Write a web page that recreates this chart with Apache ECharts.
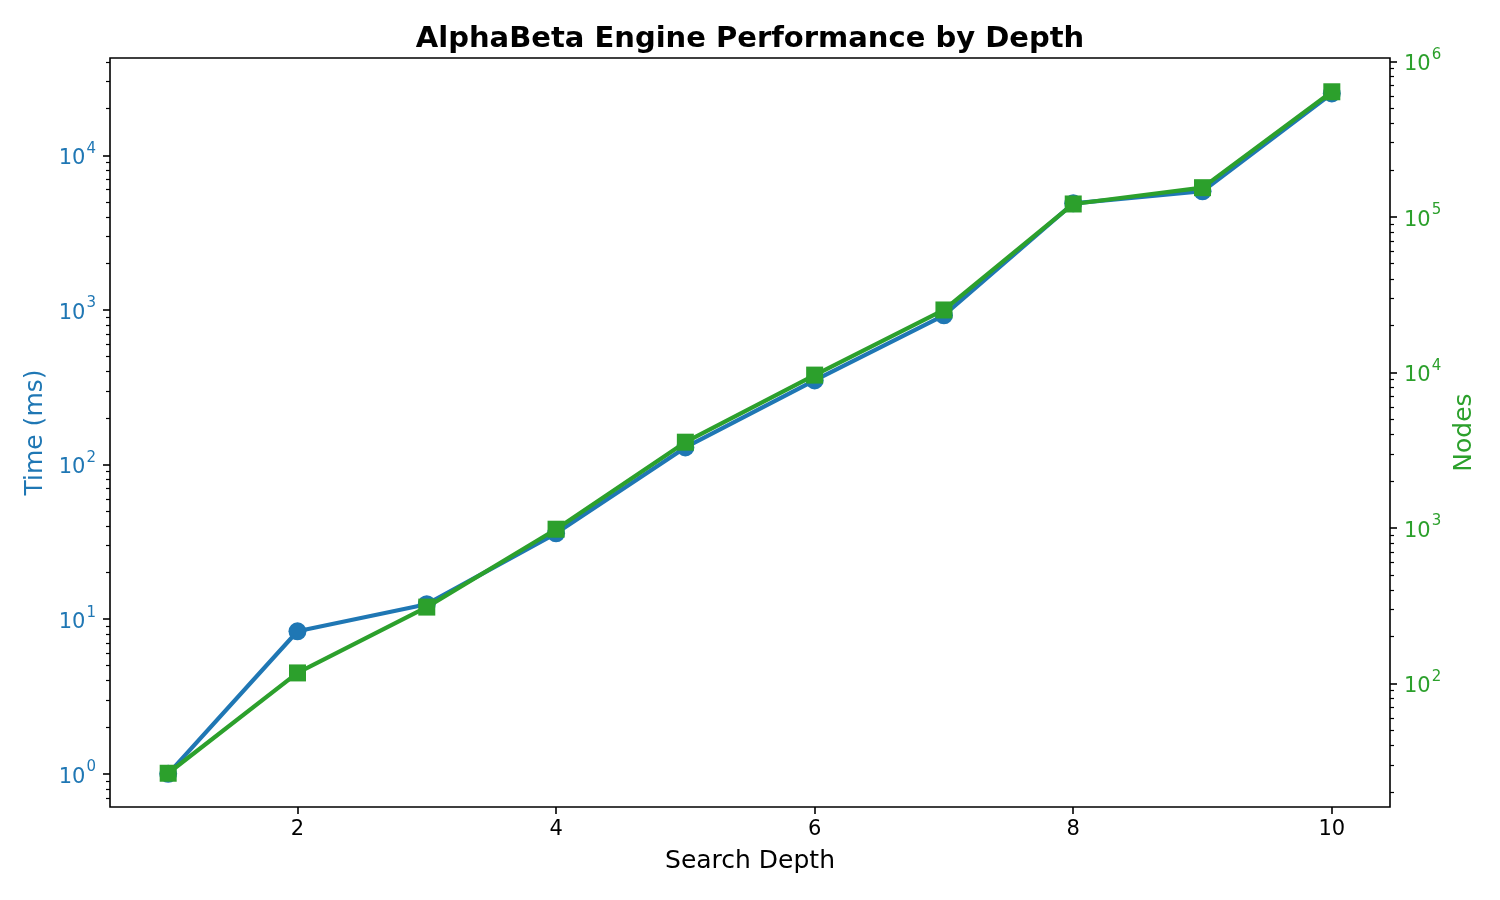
<!DOCTYPE html>
<html>
<head>
<meta charset="utf-8">
<script src="https://cdn.jsdelivr.net/npm/echarts@6/dist/echarts.min.js"></script>
<style>
html,body{margin:0;padding:0;background:#fff;}
#chart{width:1500px;height:900px;}
</style>
</head>
<body>
<div id="chart"></div>
<script>
// ---- data ----
const depths = [1, 2, 3, 4, 5, 6, 7, 8, 9, 10];
const timeMs = [1.0, 8.35, 12.5, 35.9, 129, 350, 923, 4890, 5850, 25100];
const nodes  = [26.5, 117, 310, 982, 3560, 9610, 25200, 121000, 154000, 637000];
const xTicks = [2, 4, 6, 8, 10];
const timeTicks = [1, 10, 100, 1000, 10000];
const nodeTicks = [100, 1000, 10000, 100000, 1000000];

const BLUE = '#1f77b4', GREEN = '#2ca02c';
const FONT = 'DejaVu Sans';
const timeMin = 0.61, timeMax = 42560;
const nodeMin = 16.08, nodeMax = 1.05e6;

function minorTicks(lo, hi) {
  const out = [];
  for (let e = -2; e <= 7; e++) {
    for (let m = 2; m <= 9; m++) {
      const v = m * Math.pow(10, e);
      if (v >= lo && v <= hi) out.push(v);
    }
  }
  return out;
}
function logLabel(v) {
  const e = Math.round(Math.log10(v));
  return '{b|10}{s|' + e + '}';
}

const chart = echarts.init(document.getElementById('chart'), null, {renderer: 'canvas'});

function majorLogAxis(pos, lo, hi, ticks, color) {
  return {
    type: 'log', position: pos, min: lo, max: hi, logBase: 10,
    axisLine: {show: false},
    splitLine: {show: false},
    minorTick: {show: false},
    axisTick: {show: true, inside: false, length: 7, lineStyle: {color: '#000', width: 1.6}, customValues: ticks},
    axisLabel: {
      show: true, customValues: ticks, margin: 14, color: color, fontFamily: FONT, fontSize: 21,
      formatter: logLabel,
      rich: {
        b: {color: color, fontFamily: FONT, fontSize: 21, lineHeight: 28, verticalAlign: 'bottom'},
        s: {color: color, fontFamily: FONT, fontSize: 15, lineHeight: 15, verticalAlign: 'top', padding: [0, 0, 0, 1]}
      }
    },
  };
}
function minorLogAxis(pos, lo, hi) {
  return {
    type: 'log', position: pos, min: lo, max: hi, logBase: 10,
    axisLine: {show: false},
    splitLine: {show: false},
    axisLabel: {show: false},
    axisTick: {show: true, inside: false, length: 4, lineStyle: {color: '#000', width: 1.2}, customValues: minorTicks(lo, hi)},
  };
}

const yLeft = majorLogAxis('left', timeMin, timeMax, timeTicks, BLUE);
yLeft.name = 'Time (ms)';
yLeft.nameLocation = 'middle';
yLeft.nameGap = 62;
yLeft.nameTextStyle = {color: BLUE, fontFamily: FONT, fontSize: 25};

const yRight = majorLogAxis('right', nodeMin, nodeMax, nodeTicks, GREEN);
yRight.name = 'Nodes';
yRight.nameLocation = 'middle';
yRight.nameGap = 62;
yRight.nameTextStyle = {color: GREEN, fontFamily: FONT, fontSize: 25};

const option = {
  animation: false,
  backgroundColor: '#fff',
  title: {
    text: 'AlphaBeta Engine Performance by Depth',
    left: 'center', top: 20,
    textStyle: {fontFamily: FONT, fontSize: 29, fontWeight: 'bold', color: '#000'}
  },
  grid: {
    left: 110, right: 110, top: 58, bottom: 93,
    show: true, borderColor: '#000', borderWidth: 1.6, backgroundColor: 'transparent'
  },
  xAxis: {
    type: 'value', min: 0.55, max: 10.45,
    name: 'Search Depth', nameLocation: 'middle', nameGap: 42,
    nameTextStyle: {color: '#000', fontFamily: FONT, fontSize: 25},
    axisLine: {show: false},
    splitLine: {show: false},
    axisTick: {show: true, inside: false, length: 7, lineStyle: {color: '#000', width: 1.6}, customValues: xTicks},
    axisLabel: {show: true, customValues: xTicks, margin: 12, color: '#000', fontFamily: FONT, fontSize: 21}
  },
  yAxis: [
    yLeft,
    minorLogAxis('left', timeMin, timeMax),
    yRight,
    minorLogAxis('right', nodeMin, nodeMax)
  ],
  series: [
    {
      name: 'Time (ms)', type: 'line', yAxisIndex: 0,
      data: depths.map((d, i) => [d, timeMs[i]]),
      symbol: 'circle', symbolSize: 18, showSymbol: true,
      lineStyle: {color: BLUE, width: 4.2},
      itemStyle: {color: BLUE, borderWidth: 0},
      z: 2
    },
    {
      name: 'Nodes', type: 'line', yAxisIndex: 2,
      data: depths.map((d, i) => [d, nodes[i]]),
      symbol: 'rect', symbolSize: 17, showSymbol: true,
      lineStyle: {color: GREEN, width: 4.2},
      itemStyle: {color: GREEN, borderWidth: 0},
      z: 3
    }
  ]
};
chart.setOption(option);
</script>
</body>
</html>
